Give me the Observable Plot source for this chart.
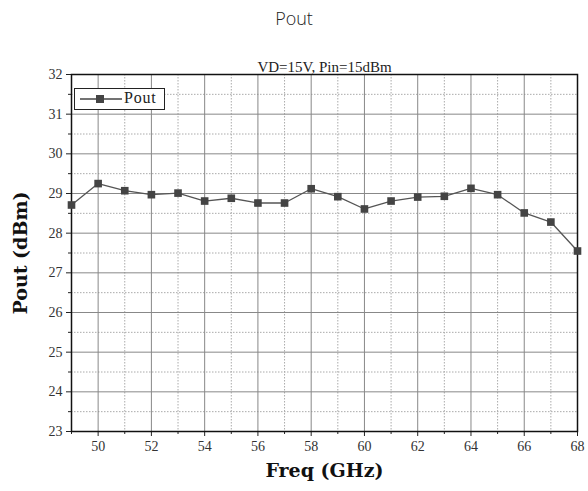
<!DOCTYPE html>
<html>
<head>
<meta charset="utf-8">
<script src="https://cdn.jsdelivr.net/npm/d3@7"></script>
<script src="https://cdn.jsdelivr.net/npm/@observablehq/plot@0.6"></script>
<style>
  body { margin: 0; background: #fff; }
  #wrap { position: relative; width: 588px; }
  #title { height: 36px; line-height: 36px; text-align: center; font-family: "Open Sans", sans-serif; font-size: 18px; color: #222; font-weight: 300; }
  #legend { position: absolute; left: 74px; top: 88px; width: 89px; height: 20px; border: 1.5px solid #222; background: #fff; font-family: "Liberation Serif", serif; font-size: 16px; color: #222; }
  #legend svg { position: absolute; left: 0; top: 0; }
  #legend span { position: absolute; left: 49px; top: 0px; letter-spacing: 0.8px; }
</style>
</head>
<body>
<div id="wrap">
  <div id="title">Pout</div>
  <div id="chart"></div>
  <div id="legend"><svg width="50" height="20"><line x1="5" y1="10" x2="47" y2="10" stroke="#444" stroke-width="1.3"/><rect x="21" y="6" width="8" height="8" fill="#444"/></svg><span>Pout</span></div>
</div>
<script>
const freq = [49,50,51,52,53,54,55,56,57,58,59,60,61,62,63,64,65,66,67,68];
const pout = [28.71,29.25,29.07,28.97,29.01,28.81,28.88,28.76,28.76,29.12,28.92,28.61,28.81,28.91,28.93,29.13,28.97,28.51,28.28,27.55];
const xMajor = [50,52,54,56,58,60,62,64,66,68];
const xMinor = [49,51,53,55,57,59,61,63,65,67];
const yMajor = [23,24,25,26,27,28,29,30,31,32];
const yMinor = [23.5,24.5,25.5,26.5,27.5,28.5,29.5,30.5,31.5];
const subtitle = "VD=15V, Pin=15dBm";
const xLabel = "Freq (GHz)";
const yLabel = "Pout (dBm)";

const data = freq.map((f, i) => ({f, p: pout[i]}));
const labelFont = {fontFamily: "DejaVu Serif, serif", fontWeight: "bold", fontSize: 19, fill: "#111", letterSpacing: 0.6};
const tickFont = {fontFamily: "Liberation Serif, serif", fontSize: 14, fill: "#333"};

const chart = Plot.plot({
  width: 588,
  height: 455,
  marginTop: 38,
  marginBottom: 60,
  marginLeft: 71,
  marginRight: 11,
  style: {fontFamily: "Liberation Serif, serif", fontSize: "14px", color: "#333", background: "#fff"},
  x: {domain: [49, 68]},
  y: {domain: [23, 32]},
  marks: [
    Plot.gridX(xMinor, {stroke: "#aaa", strokeOpacity: 1, strokeDasharray: "1.5,1.5"}),
    Plot.gridY(yMinor, {stroke: "#aaa", strokeOpacity: 1, strokeDasharray: "1.5,1.5"}),
    Plot.gridX(xMajor, {stroke: "#888", strokeOpacity: 1}),
    Plot.gridY(yMajor, {stroke: "#888", strokeOpacity: 1}),
    Plot.axisX(xMajor, {tickSize: 5, text: null, stroke: "#222", label: null}),
    Plot.axisX(xMinor, {tickSize: 3, text: null, stroke: "#222", label: null}),
    Plot.axisY(yMajor, {tickSize: 5, text: null, stroke: "#222", label: null}),
    Plot.axisY(yMinor, {tickSize: 3, text: null, stroke: "#222", label: null}),
    Plot.text(xMajor, {x: d => d, text: d => String(d), frameAnchor: "bottom", dy: 19, ...tickFont}),
    Plot.text(yMajor, {y: d => d, text: d => String(d), frameAnchor: "left", dx: -9, textAnchor: "end", ...tickFont}),
    Plot.frame({stroke: "#111", strokeWidth: 1.5}),
    Plot.line(data, {x: "f", y: "p", stroke: "#555", strokeWidth: 1.3}),
    Plot.dot(data, {x: "f", y: "p", symbol: "square", r: 4.3, fill: "#444", stroke: "none"}),
    Plot.text([subtitle], {text: d => d, frameAnchor: "top", dy: -13, fontFamily: "Liberation Serif, serif", fontSize: 15, fill: "#222", letterSpacing: 1.6}),
    Plot.text([xLabel], {text: d => d, frameAnchor: "bottom", dy: 45, textAnchor: "middle", ...labelFont}),
    Plot.text([yLabel], {text: d => d, frameAnchor: "left", dx: -51, rotate: -90, textAnchor: "middle", ...labelFont})
  ]
});
document.getElementById("chart").appendChild(chart);
</script>
</body>
</html>
